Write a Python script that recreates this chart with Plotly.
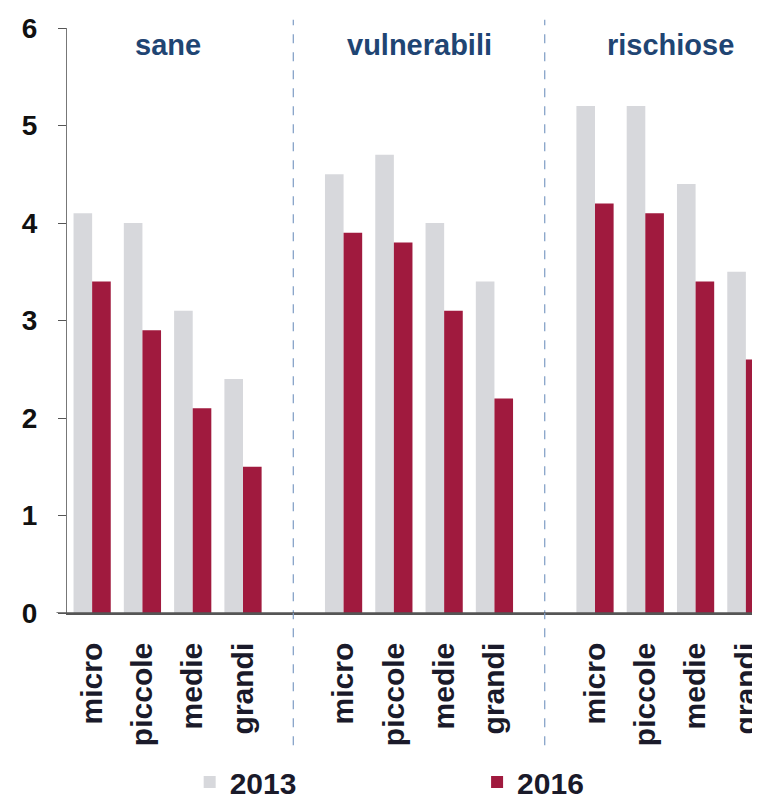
import plotly.graph_objects as go

groups = ["sane", "vulnerabili", "rischiose"]
sizes = ["micro", "piccole", "medie", "grandi"]
v2013 = [[4.1, 4.0, 3.1, 2.4], [4.5, 4.7, 4.0, 3.4], [5.2, 5.2, 4.4, 3.5]]
v2016 = [[3.4, 2.9, 2.1, 1.5], [3.9, 3.8, 3.1, 2.2], [4.2, 4.1, 3.4, 2.6]]
years = ["2013", "2016"]
colors = ["#d7d8dc", "#a01a3e"]

slot = len(sizes) + 1
xs, t13, t16, labels = [], [], [], []
for g in range(len(groups)):
    for i in range(len(sizes)):
        xs.append(g * slot + i)
        t13.append(v2013[g][i])
        t16.append(v2016[g][i])
        labels.append(sizes[i])

fig = go.Figure()
fig.add_trace(go.Bar(x=xs, y=t13, name=years[0], legend="legend",
                     marker=dict(color=colors[0], line=dict(width=0))))
fig.add_trace(go.Bar(x=xs, y=t16, name=years[1], legend="legend2",
                     marker=dict(color=colors[1], line=dict(width=0))))

for g in range(len(groups)):
    fig.add_annotation(x=g * slot + (len(sizes) - 1) / 2, y=5.83, xref="x", yref="y",
                       text=groups[g], showarrow=False,
                       font=dict(family="Liberation Sans", size=29, color="#1f4573", weight="bold"))
for g in range(1, len(groups)):
    fig.add_shape(type="line", x0=g * slot - 1, x1=g * slot - 1, xref="x", yref="paper",
                  y0=-0.226, y1=1.014, line=dict(color="#7d9cc4", width=1.2, dash="dash"))
# baseline extending slightly left of the y axis
fig.add_shape(type="line", xref="paper", yref="y", x0=-0.015, x1=1, y0=0, y1=0,
              line=dict(color="#555", width=1.5))

legfont = dict(family="Liberation Sans", size=30, color="#1a1a2a", weight="bold")
fig.update_layout(
    width=760, height=800,
    margin=dict(l=59, r=0, t=20, b=195),
    paper_bgcolor="white", plot_bgcolor="white",
    barmode="group", bargap=0.26, bargroupgap=0,
    showlegend=True,
    legend=dict(orientation="h", x=0.175, xanchor="left", y=-0.289, yanchor="middle",
                font=legfont, bgcolor="rgba(0,0,0,0)"),
    legend2=dict(orientation="h", x=0.585, xanchor="left", y=-0.289, yanchor="middle",
                 font=legfont, bgcolor="rgba(0,0,0,0)"),
)
fig.update_xaxes(range=[-0.5, 13.44], tickvals=xs, ticktext=labels, tickangle=-90,
                 showline=True, linecolor="#555", linewidth=1.5, ticks="", showgrid=False,
                 zeroline=False, ticklabelstandoff=16,
                 tickfont=dict(family="Liberation Sans", size=30, color="#1a1a2a", weight="bold"))
fig.update_yaxes(range=[0, 6], dtick=1, showline=True, linecolor="#777", linewidth=1.2,
                 ticks="outside", ticklen=8, tickcolor="#555", showgrid=False, zeroline=False,
                 ticklabelstandoff=15,
                 tickfont=dict(family="Liberation Sans", size=28, color="#111", weight="bold"))

fig.write_html("out.html")
